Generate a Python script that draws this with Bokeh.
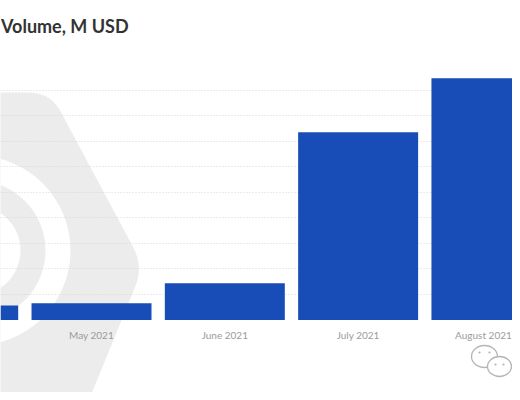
import numpy as np
from bokeh.plotting import figure
from bokeh.models import Range1d, FixedTicker, Grid, ColumnDataSource, CDSView, IndexFilter
from bokeh.core.properties import value
from bokeh.embed import file_html
from bokeh.resources import INLINE

# ---- data ----
months = ["April 2021", "May 2021", "June 2021", "July 2021", "August 2021"]
volume = [57, 66, 144, 736, 948]
grid_values = [100, 200, 300, 400, 500, 600, 700, 800, 900]
title_text = "Volume, M USD"

BAR = "#184db7"
WM = "#ececec"
W, H = 512, 392

p = figure(width=W, height=H, output_backend="svg", toolbar_location=None,
           x_range=Range1d(0.3173, 4.158), y_range=Range1d(-284.3, 1252.9),
           x_axis_type=None, y_axis_type=None, min_border=0)
p.outline_line_color = None
p.background_fill_color = "white"

# pixel-space ranges for decoration
p.extra_x_ranges = {"px": Range1d(0, W)}
p.extra_y_ranges = {"px": Range1d(H, 0)}


def rounded(pts, r=20, n=10):
    pts = np.asarray(pts, float)
    out = []
    m = len(pts)
    for i in range(m):
        v = pts[i]
        a = pts[i - 1]
        b = pts[(i + 1) % m]
        ua = (a - v) / np.linalg.norm(a - v)
        ub = (b - v) / np.linalg.norm(b - v)
        p1 = v + ua * r
        p2 = v + ub * r
        for t in np.linspace(0, 1, n):
            q = (1 - t) ** 2 * p1 + 2 * (1 - t) * t * v + t ** 2 * p2
            out.append(q)
    out = np.array(out)
    return out[:, 0], out[:, 1]


hx, hy = rounded([(-300, 92), (50, 92), (143, 266), (72, 440), (-300, 440)], r=22)
p.patch(hx, hy, fill_color=WM, line_color=None, x_range_name="px", y_range_name="px", level="image")
cx, cy = -25, 250
p.annulus(x=[cx], y=[cy], inner_radius=70, outer_radius=95, fill_color="white", line_color=None,
          x_range_name="px", y_range_name="px", level="image")
p.circle(x=[cx], y=[cy], radius=45, fill_color="white", line_color=None,
         x_range_name="px", y_range_name="px", level="image")

# grid
grid = Grid(dimension=1, ticker=FixedTicker(ticks=grid_values), grid_line_color="#d6d6d6",
            grid_line_dash="1 2", grid_line_width=1)
p.add_layout(grid, "center")

# bars
idx = list(range(len(months)))
lo, hi = p.x_range.start, p.x_range.end
px_per_unit = W / (hi - lo)
# keep labels inside the canvas: shift a label inward if it would overflow
offsets = []
for i, m in zip(idx, months):
    cxp = (i - lo) * px_per_unit
    half = 2.55 * len(m)
    off = 0.0
    if cxp + half > W - 1:
        off = (W - 1) - (cxp + half)
    offsets.append(off)
src = ColumnDataSource(dict(x=idx, top=volume, label=months, xoff=offsets))
p.vbar(x="x", top="top", bottom=0, width=0.9, source=src, fill_color=BAR, line_color=None)

# month labels (only those whose centre falls inside the visible range)
visible = [i for i in idx if lo <= i <= hi]
p.text(x="x", y=0, text="label", source=src, view=CDSView(filter=IndexFilter(visible)),
       x_offset="xoff", y_offset=14.5, text_align="center", text_baseline="middle",
       text_font=value("Lato"), text_font_size="10px", text_color="#9b9b9b")

# title
p.text(x=[0.5], y=[25.5], text=[title_text], x_range_name="px", y_range_name="px",
       text_font=value("Lato"), text_font_style="bold", text_font_size="18px",
       text_color="#333333", text_baseline="alphabetic")

# wechat-like watermark icon
p.ellipse(x=[484], y=[356], width=[26], height=[22], fill_color="white", line_color="#b5b5b5",
          line_width=1.3, x_range_name="px", y_range_name="px")
p.ellipse(x=[499], y=[366], width=[24], height=[20], fill_color="white", line_color="#b5b5b5",
          line_width=1.3, x_range_name="px", y_range_name="px")
p.scatter(x=[479, 489, 495, 503], y=[352, 352, 364, 364], size=2.2, fill_color="#b5b5b5",
          line_color=None, x_range_name="px", y_range_name="px")

open("out.html", "w").write(file_html(p, INLINE))
